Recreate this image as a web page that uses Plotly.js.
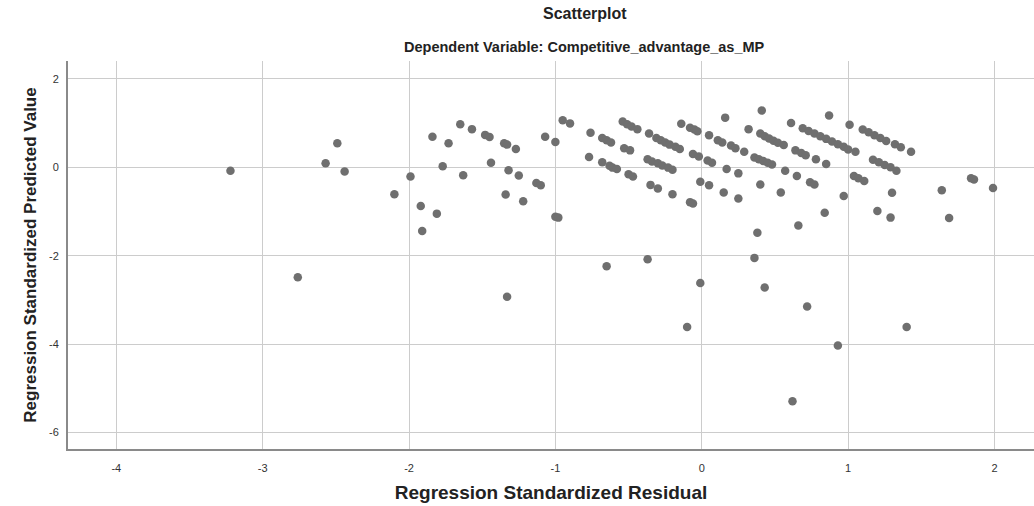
<!DOCTYPE html>
<html>
<head>
<meta charset="utf-8">
<script src="https://cdn.plot.ly/plotly-3.0.1.min.js"></script>
<style>html,body{margin:0;padding:0;background:#fff}#chart{width:1034px;height:506px}</style>
</head>
<body>
<div id="chart"></div>
<script>
// Regression Standardized Residual (x) and Regression Standardized Predicted Value (y)
const residual = [
  -3.22, -2.76, -2.57, -2.49, -2.44, -2.10, -1.99, -1.92, -1.91, -1.84,
  -1.81, -1.77, -1.73, -1.65, -1.63, -1.57, -1.48, -1.45, -1.44, -1.35,
  -1.33, -1.33, -1.34, -1.32, -1.27, -1.25, -1.22, -1.13, -1.10, -1.07,
  -1.00, -1.00, -0.98, -0.95, -0.90, -0.76, -0.77, -0.68, -0.65, -0.62,
  -0.68, -0.63, -0.61, -0.58, -0.65, -0.53, -0.49, -0.50, -0.47, -0.54,
  -0.51, -0.48, -0.44, -0.37, -0.36, -0.31, -0.28, -0.25, -0.22, -0.18,
  -0.15, -0.37, -0.34, -0.30, -0.27, -0.23, -0.20, -0.35, -0.30, -0.20,
  -0.14, -0.08, -0.05, -0.03, -0.10, -0.08, -0.06, -0.06, -0.02, -0.01,
  -0.01, 0.05, 0.04, 0.07, 0.05, 0.11, 0.14, 0.16, 0.20, 0.23,
  0.29, 0.17, 0.25, 0.15, 0.25, 0.32, 0.41, 0.40, 0.43, 0.46,
  0.49, 0.52, 0.56, 0.36, 0.39, 0.42, 0.45, 0.48, 0.36, 0.38,
  0.40, 0.43, 0.54, 0.57, 0.61, 0.62, 0.64, 0.68, 0.71, 0.65,
  0.66, 0.72, 0.74, 0.77, 0.78, 0.85, 0.84, 0.87, 0.69, 0.73,
  0.77, 0.81, 0.85, 0.89, 0.93, 0.97, 1.00, 0.93, 0.97, 1.01,
  1.05, 1.04, 1.07, 1.11, 1.10, 1.14, 1.18, 1.22, 1.26, 1.32,
  1.36, 1.43, 1.17, 1.21, 1.25, 1.29, 1.33, 1.30, 1.20, 1.29,
  1.40, 1.64, 1.69, 1.84, 1.86, 1.99
];
const predicted = [
  -0.08, -2.49, 0.09, 0.54, -0.10, -0.61, -0.21, -0.88, -1.44, 0.69,
  -1.05, 0.02, 0.54, 0.97, -0.18, 0.86, 0.73, 0.68, 0.10, 0.54,
  0.51, -2.93, -0.62, -0.07, 0.41, -0.19, -0.77, -0.36, -0.41, 0.69,
  0.57, -1.12, -1.14, 1.06, 0.99, 0.78, 0.23, 0.66, 0.61, 0.56,
  0.11, 0.03, -0.01, -0.04, -2.24, 0.43, 0.38, -0.16, -0.21, 1.03,
  0.97, 0.92, 0.86, -2.08, 0.76, 0.66, 0.61, 0.56, 0.51, 0.46,
  0.41, 0.18, 0.13, 0.09, 0.04, -0.01, -0.06, -0.40, -0.48, -0.61,
  0.98, 0.89, 0.85, 0.81, -3.61, -0.79, -0.82, 0.30, 0.24, -2.62,
  -0.33, -0.41, 0.15, 0.10, 0.72, 0.61, 0.56, 1.12, 0.49, 0.43,
  0.35, -0.04, -0.14, -0.57, -0.71, 0.86, 1.28, 0.76, 0.70, 0.65,
  0.60, 0.55, 0.50, 0.22, 0.18, 0.14, 0.10, 0.06, -2.05, -1.48,
  -0.39, -2.72, -0.57, -0.08, 1.00, -5.29, 0.38, 0.32, 0.27, -0.20,
  -1.32, -3.15, -0.34, -0.39, 0.18, 0.07, -1.03, 1.17, 0.88, 0.82,
  0.76, 0.70, 0.64, 0.58, 0.52, 0.46, 0.40, -4.03, -0.65, 0.96,
  0.35, -0.20, -0.25, -0.31, 0.85, 0.79, 0.72, 0.66, 0.59, 0.52,
  0.45, 0.35, 0.17, 0.11, 0.05, 0.00, -0.08, -0.58, -0.99, -1.14,
  -3.61, -0.52, -1.15, -0.25, -0.28, -0.47
];
const xTicks = [-4, -3, -2, -1, 0, 1, 2];
const yTicks = [2, 0, -2, -4, -6];

const FONT = 'Liberation Sans, Arial, sans-serif';

const trace = {
  type: 'scatter',
  mode: 'markers',
  x: residual,
  y: predicted,
  marker: {color: '#6f6f6f', size: 8.5, line: {width: 0}},
  hoverinfo: 'x+y'
};

const layout = {
  width: 1034,
  height: 506,
  margin: {l: 68, r: 0, t: 61, b: 57},
  paper_bgcolor: '#ffffff',
  plot_bgcolor: '#ffffff',
  showlegend: false,
  font: {family: FONT, color: '#222'},
  xaxis: {
    range: [-4.33, 2.27],
    tickvals: xTicks,
    ticktext: xTicks.map(String),
    ticks: '',
    showgrid: true,
    gridcolor: '#cccccc',
    gridwidth: 1,
    zeroline: false,
    showline: true,
    linecolor: '#8a8a8a',
    linewidth: 2,
    mirror: false,
    tickfont: {family: FONT, size: 11, color: '#333'},
    ticklabelstandoff: 8,
    title: {text: '<b>Regression Standardized Residual</b>', font: {family: FONT, size: 19, color: '#222'}, standoff: 12}
  },
  yaxis: {
    range: [-6.37, 2.40],
    tickvals: yTicks,
    ticktext: yTicks.map(String),
    ticks: '',
    showgrid: true,
    gridcolor: '#cccccc',
    gridwidth: 1,
    zeroline: false,
    showline: true,
    linecolor: '#8a8a8a',
    linewidth: 2,
    tickfont: {family: FONT, size: 11, color: '#333'},
    ticklabelstandoff: 5,
    title: {text: '<b>Regression Standardized Predicted Value</b>', font: {family: FONT, size: 17, color: '#222'}, standoff: 8}
  },
  annotations: [
    {text: '<b>Scatterplot</b>', xref: 'paper', yref: 'paper', x: 0.535, y: 1, yshift: 48,
     xanchor: 'center', yanchor: 'middle', showarrow: false, font: {family: FONT, size: 16, color: '#222'}},
    {text: '<b>Dependent Variable: Competitive_advantage_as_MP</b>', xref: 'paper', yref: 'paper', x: 0.535, y: 1, yshift: 14,
     xanchor: 'center', yanchor: 'middle', showarrow: false, font: {family: FONT, size: 14.5, color: '#222'}}
  ]
};

Plotly.newPlot('chart', [trace], layout, {displayModeBar: false, staticPlot: true});
</script>
</body>
</html>
